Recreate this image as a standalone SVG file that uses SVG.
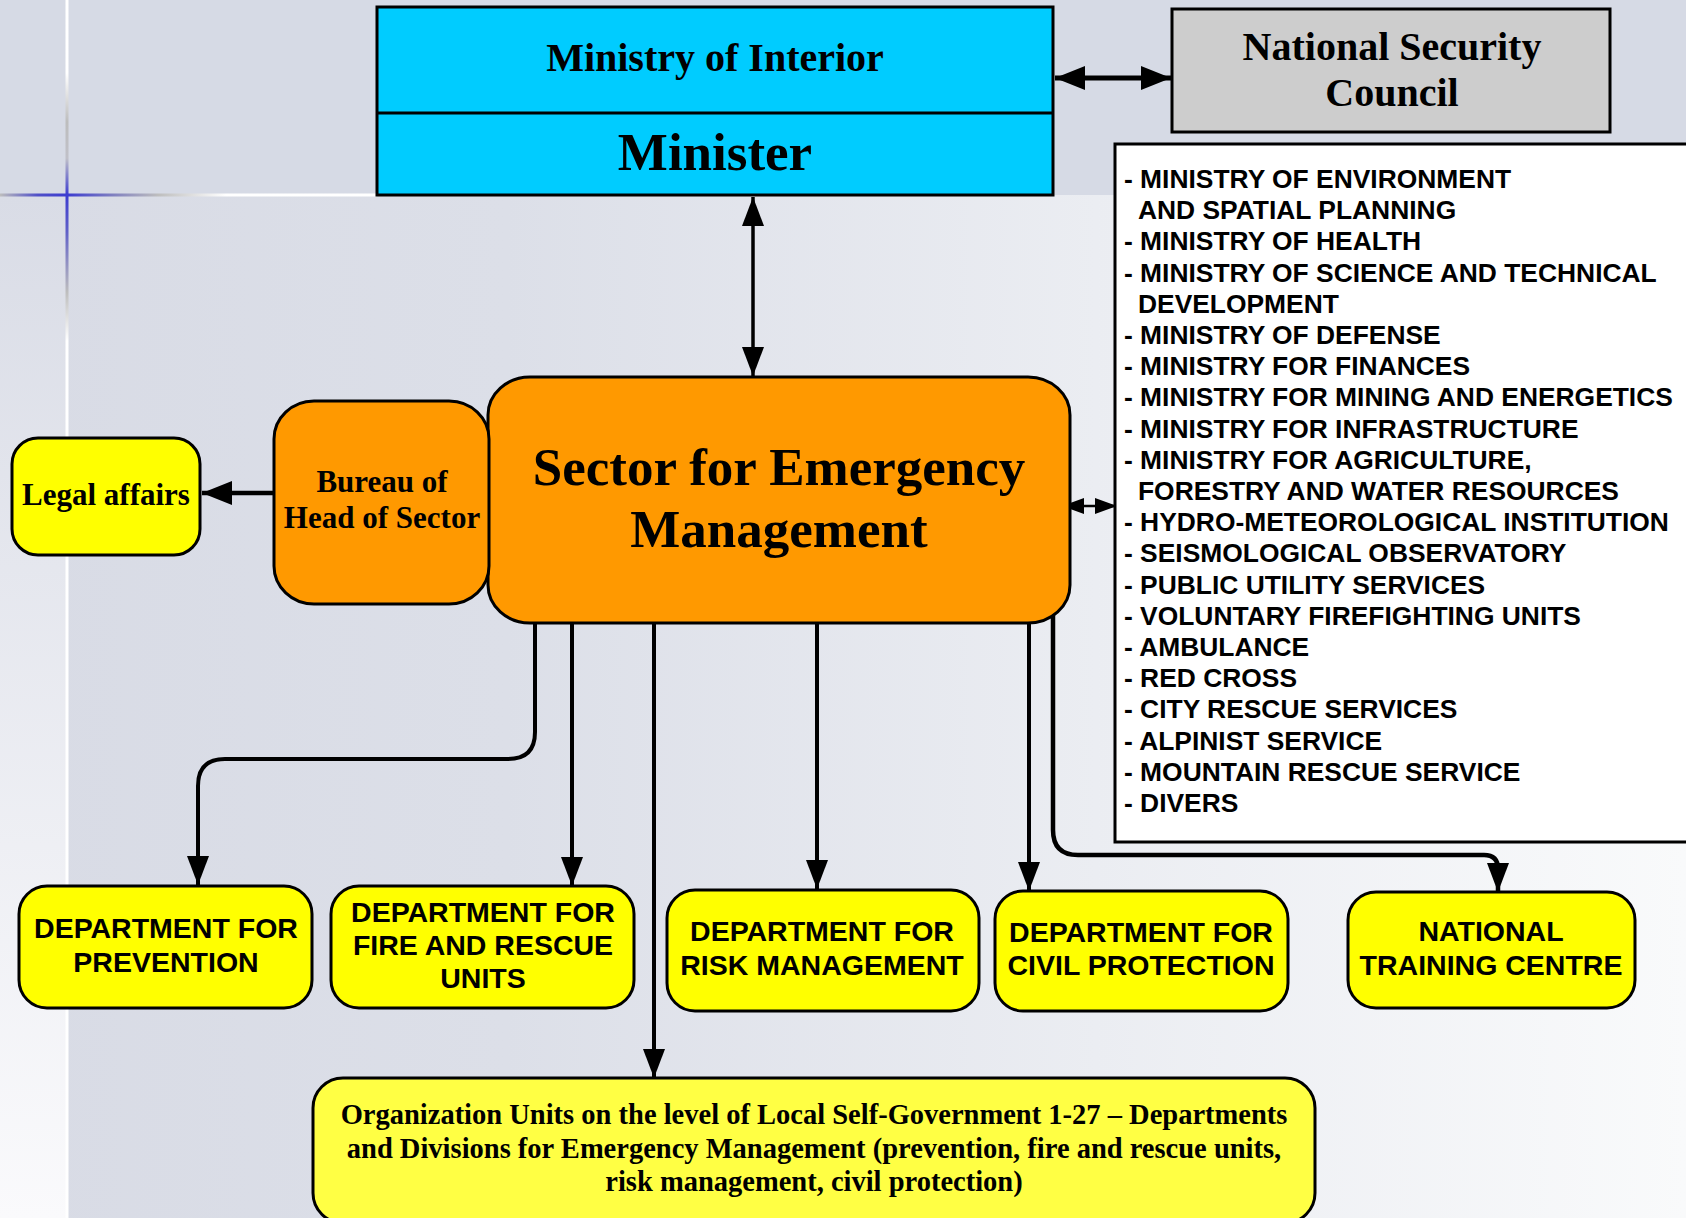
<svg xmlns="http://www.w3.org/2000/svg" width="1686" height="1218" viewBox="0 0 1686 1218">
<defs>
<linearGradient id="bgH" x1="0" y1="0" x2="1686" y2="0" gradientUnits="userSpaceOnUse">
<stop offset="0" stop-color="#D8DBE5"/><stop offset="0.3" stop-color="#DCDFE8"/><stop offset="0.65" stop-color="#EBEDF2"/><stop offset="1" stop-color="#F9FAFB"/>
</linearGradient>
<linearGradient id="bgV" x1="0" y1="195" x2="0" y2="1218" gradientUnits="userSpaceOnUse">
<stop offset="0" stop-color="#D9DCE6"/><stop offset="1" stop-color="#FAFAFC"/>
</linearGradient>
<linearGradient id="lineV" x1="0" y1="0" x2="0" y2="1218" gradientUnits="userSpaceOnUse">
<stop offset="0" stop-color="#FFFFFF"/><stop offset="0.06" stop-color="#FFFFFF"/><stop offset="0.1" stop-color="#BDBDBD"/><stop offset="0.13" stop-color="#C0C0C8"/><stop offset="0.16" stop-color="#3C3CD0"/><stop offset="0.19" stop-color="#6060C8"/><stop offset="0.24" stop-color="#BEBEBE"/><stop offset="0.28" stop-color="#FFFFFF"/><stop offset="1" stop-color="#FFFFFF"/>
</linearGradient>
<linearGradient id="lineH" x1="0" y1="0" x2="377" y2="0" gradientUnits="userSpaceOnUse">
<stop offset="0" stop-color="#BDBDBD"/><stop offset="0.1" stop-color="#5050C8"/><stop offset="0.18" stop-color="#3C3CD0"/><stop offset="0.3" stop-color="#8080C0"/><stop offset="0.42" stop-color="#BEBEBE"/><stop offset="0.6" stop-color="#FFFFFF"/><stop offset="1" stop-color="#FFFFFF"/>
</linearGradient>
<marker id="arr" markerUnits="userSpaceOnUse" viewBox="0 0 29 22" refX="29" refY="11" markerWidth="29" markerHeight="22" orient="auto-start-reverse">
<path d="M0,0 L29,11 L0,22 z" fill="#000"/>
</marker>
<marker id="arrBig" markerUnits="userSpaceOnUse" viewBox="0 0 30 24" refX="30" refY="12" markerWidth="30" markerHeight="24" orient="auto-start-reverse">
<path d="M0,0 L30,12 L0,24 z" fill="#000"/>
</marker>
<marker id="arrSm" markerUnits="userSpaceOnUse" viewBox="0 0 22 16" refX="22" refY="8" markerWidth="22" markerHeight="16" orient="auto-start-reverse">
<path d="M0,0 L22,8 L0,16 z" fill="#000"/>
</marker>
<style>
.box{stroke:#000;stroke-width:3}
.cyan{fill:#00CCFF}
.gray{fill:#CDCDCD}
.orange{fill:#FF9900}
.yellow{fill:#FFFF00}
.lyellow{fill:#FFFF44}
.white{fill:#FFFFFF}
.serif{font-family:"Liberation Serif","Times New Roman",serif;font-weight:bold;fill:#000}
.sans{font-family:"Liberation Sans",Arial,sans-serif;font-weight:bold;fill:#000}
.conn{fill:none;stroke:#000;stroke-width:4}
</style>
</defs>

<!-- background -->
<rect x="0" y="0" width="1686" height="1218" fill="url(#bgH)"/>
<rect x="0" y="195" width="67" height="1023" fill="url(#bgV)"/>
<rect x="0" y="0" width="1686" height="195" fill="#D6DAE5"/>
<rect x="65.5" y="0" width="3" height="1218" fill="url(#lineV)"/>
<rect x="0" y="193.5" width="377" height="3" fill="url(#lineH)"/>

<g id="connectors">
<path class="conn" style="stroke-width:3.5" d="M753,197 V376" marker-start="url(#arr)" marker-end="url(#arr)"/>
<path class="conn" style="stroke-width:5" d="M1055,78 H1171" marker-start="url(#arrBig)" marker-end="url(#arrBig)"/>
<path class="conn" style="stroke-width:4.5" d="M274,493 H202" marker-end="url(#arrBig)"/>
<path class="conn" style="stroke-width:2.5" d="M1062,506 H1117" marker-start="url(#arrSm)" marker-end="url(#arrSm)"/>
<path class="conn" d="M535,620 V732 Q535,759 508,759 H225 Q198,759 198,786 V885" marker-end="url(#arr)"/>
<path class="conn" d="M572,620 V886" marker-end="url(#arr)"/>
<path class="conn" d="M654,620 V1078" marker-end="url(#arr)"/>
<path class="conn" d="M817,620 V889" marker-end="url(#arr)"/>
<path class="conn" d="M1029,620 V891" marker-end="url(#arr)"/>
<path class="conn" style="stroke-width:4.5" d="M1053,612 V830 Q1053,855 1078,855 H1484 Q1498,855 1498,869 V892" marker-end="url(#arr)"/>
</g>

<g id="ministry">
<rect class="box cyan" x="377" y="7" width="676" height="188"/>
<line x1="377" y1="113" x2="1053" y2="113" stroke="#000" stroke-width="3"/>
<text class="serif" x="715" y="71" font-size="40" text-anchor="middle">Ministry of Interior</text>
<text class="serif" x="715" y="170" font-size="53" text-anchor="middle">Minister</text>
</g>

<g id="nsc">
<rect class="box gray" x="1172" y="9" width="438" height="123"/>
<text class="serif" x="1392" y="60" font-size="40" text-anchor="middle">National Security</text>
<text class="serif" x="1392" y="106" font-size="40" text-anchor="middle">Council</text>
</g>

<g id="list">
<rect class="box white" x="1115" y="144" width="580" height="698"/>
<text class="sans" font-size="26.4">
<tspan x="1124" y="188">- MINISTRY OF ENVIRONMENT</tspan>
<tspan x="1138" y="219.2">AND SPATIAL PLANNING</tspan>
<tspan x="1124" y="250.4">- MINISTRY OF HEALTH</tspan>
<tspan x="1124" y="281.6">- MINISTRY OF SCIENCE AND TECHNICAL</tspan>
<tspan x="1138" y="312.8">DEVELOPMENT</tspan>
<tspan x="1124" y="344">- MINISTRY OF DEFENSE</tspan>
<tspan x="1124" y="375.2">- MINISTRY FOR FINANCES</tspan>
<tspan x="1124" y="406.4">- MINISTRY FOR MINING AND ENERGETICS</tspan>
<tspan x="1124" y="437.6">- MINISTRY FOR INFRASTRUCTURE</tspan>
<tspan x="1124" y="468.8">- MINISTRY FOR AGRICULTURE,</tspan>
<tspan x="1138" y="500">FORESTRY AND WATER RESOURCES</tspan>
<tspan x="1124" y="531.2">- HYDRO-METEOROLOGICAL INSTITUTION</tspan>
<tspan x="1124" y="562.4">- SEISMOLOGICAL OBSERVATORY</tspan>
<tspan x="1124" y="593.6">- PUBLIC UTILITY SERVICES</tspan>
<tspan x="1124" y="624.8">- VOLUNTARY FIREFIGHTING UNITS</tspan>
<tspan x="1124" y="656">- AMBULANCE</tspan>
<tspan x="1124" y="687.2">- RED CROSS</tspan>
<tspan x="1124" y="718.4">- CITY RESCUE SERVICES</tspan>
<tspan x="1124" y="749.6">- ALPINIST SERVICE</tspan>
<tspan x="1124" y="780.8">- MOUNTAIN RESCUE SERVICE</tspan>
<tspan x="1124" y="812">- DIVERS</tspan>
</text>
</g>

<g id="sector">
<rect class="box orange" x="488" y="377" width="582" height="246" rx="42" ry="38"/>
<text class="serif" x="779" y="485" font-size="53" text-anchor="middle">Sector for Emergency</text>
<text class="serif" x="779" y="547" font-size="53" text-anchor="middle">Management</text>
</g>

<g id="bureau">
<rect class="box orange" x="274" y="401" width="215" height="203" rx="40" ry="38"/>
<text class="serif" x="382" y="492" font-size="31" text-anchor="middle">Bureau of</text>
<text class="serif" x="382" y="528" font-size="31" text-anchor="middle">Head of Sector</text>
</g>

<g id="legal">
<rect class="box yellow" x="12" y="438" width="188" height="117" rx="26" ry="26"/>
<text class="serif" x="106" y="505" font-size="31" text-anchor="middle">Legal affairs</text>
</g>

<g id="dept-prevention">
<rect class="box yellow" x="19" y="886" width="293" height="122" rx="28" ry="28"/>
<text class="sans" x="166" y="938" font-size="28.5" text-anchor="middle">DEPARTMENT FOR</text>
<text class="sans" x="166" y="972" font-size="28.5" text-anchor="middle">PREVENTION</text>
</g>

<g id="dept-fire">
<rect class="box yellow" x="331" y="886" width="303" height="122" rx="28" ry="28"/>
<text class="sans" x="483" y="922" font-size="28.5" text-anchor="middle">DEPARTMENT FOR</text>
<text class="sans" x="483" y="955" font-size="28.5" text-anchor="middle">FIRE AND RESCUE</text>
<text class="sans" x="483" y="988" font-size="28.5" text-anchor="middle">UNITS</text>
</g>

<g id="dept-risk">
<rect class="box yellow" x="667" y="890" width="312" height="121" rx="28" ry="28"/>
<text class="sans" x="822" y="941" font-size="28.5" text-anchor="middle">DEPARTMENT FOR</text>
<text class="sans" x="822" y="975" font-size="28.5" text-anchor="middle">RISK MANAGEMENT</text>
</g>

<g id="dept-civil">
<rect class="box yellow" x="995" y="891" width="293" height="120" rx="28" ry="28"/>
<text class="sans" x="1141" y="942" font-size="28.5" text-anchor="middle">DEPARTMENT FOR</text>
<text class="sans" x="1141" y="975" font-size="28.5" text-anchor="middle">CIVIL PROTECTION</text>
</g>

<g id="training">
<rect class="box yellow" x="1348" y="892" width="287" height="116" rx="28" ry="28"/>
<text class="sans" x="1491" y="941" font-size="28.5" text-anchor="middle">NATIONAL</text>
<text class="sans" x="1491" y="975" font-size="28.5" text-anchor="middle">TRAINING CENTRE</text>
</g>

<g id="local-units">
<rect class="box lyellow" x="313" y="1078" width="1002" height="145" rx="30" ry="30"/>
<text class="serif" x="814" y="1124" font-size="28.5" text-anchor="middle">Organization Units on the level of Local Self-Government 1-27 – Departments</text>
<text class="serif" x="814" y="1158" font-size="28.5" text-anchor="middle">and Divisions for Emergency Management (prevention, fire and rescue units,</text>
<text class="serif" x="814" y="1191" font-size="28.5" text-anchor="middle">risk management, civil protection)</text>
</g>
</svg>
